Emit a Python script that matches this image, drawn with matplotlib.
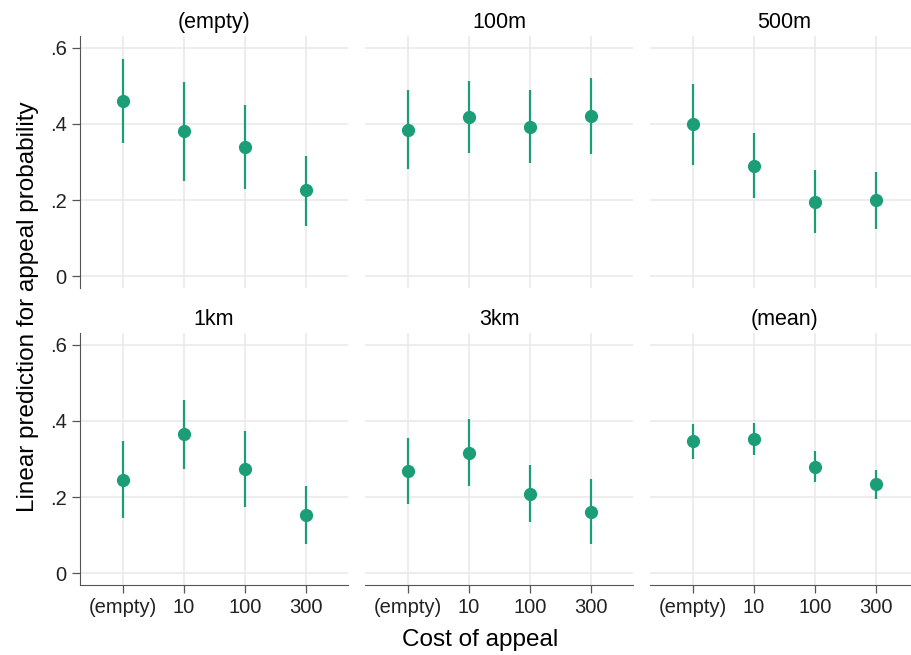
import matplotlib
matplotlib.use('Agg')
import matplotlib.pyplot as plt
import numpy as np

plt.rcParams['font.family'] = ['Liberation Sans', 'DejaVu Sans']

panels = ['(empty)', '100m', '500m', '1km', '3km', '(mean)']
costs = ['(empty)', '10', '100', '300']

estimate = [
  [0.460, 0.381, 0.340, 0.226],
  [0.385, 0.418, 0.392, 0.421],
  [0.399, 0.289, 0.196, 0.200],
  [0.245, 0.366, 0.273, 0.153],
  [0.268, 0.316, 0.208, 0.162],
  [0.347, 0.353, 0.280, 0.234],
]
ci_low = [
  [0.350, 0.251, 0.228, 0.133],
  [0.282, 0.323, 0.297, 0.321],
  [0.292, 0.205, 0.114, 0.125],
  [0.146, 0.275, 0.174, 0.076],
  [0.181, 0.228, 0.134, 0.076],
  [0.301, 0.311, 0.239, 0.195],
]
ci_high = [
  [0.570, 0.510, 0.451, 0.317],
  [0.489, 0.513, 0.489, 0.520],
  [0.505, 0.375, 0.280, 0.274],
  [0.346, 0.456, 0.374, 0.230],
  [0.356, 0.404, 0.285, 0.248],
  [0.393, 0.395, 0.320, 0.272],
]
y_ticks = [0, 0.2, 0.4, 0.6]
y_tick_labels = ['0', '.2', '.4', '.6']

color = '#1b9e77'
spine_color = '#555555'
W, H = 911, 655

fig = plt.figure(figsize=(W / 100, H / 100), dpi=100)

col_left = [80, 365, 650]
row_top = [36, 333]
ax_w, ax_h = 268, 252

for i, name in enumerate(panels):
  r, c = divmod(i, 3)
  left = col_left[c] / W
  bottom = (H - row_top[r] - ax_h) / H
  ax = fig.add_axes([left, bottom, ax_w / W, ax_h / H])

  x = np.arange(len(costs))
  est = np.array(estimate[i])
  lo = np.array(ci_low[i])
  hi = np.array(ci_high[i])
  ax.vlines(x, lo, hi, color=color, linewidth=1.6, zorder=3)
  ax.plot(x, est, 'o', color=color, markersize=8.5, zorder=4)

  ax.set_xlim(-0.7, 3.69)
  ax.set_ylim(-0.031, 0.631)
  ax.set_xticks(x)
  ax.set_yticks(y_ticks)
  ax.grid(True, color='#e8e8e8', linewidth=1.1, zorder=0)
  ax.set_axisbelow(True)
  ax.set_title(name, fontsize=15.5, pad=6)

  for s in ['top', 'right']:
    ax.spines[s].set_visible(False)
  ax.spines['left'].set_visible(c == 0)
  ax.spines['bottom'].set_visible(r == 1)
  ax.spines['left'].set_color(spine_color)
  ax.spines['bottom'].set_color(spine_color)

  ax.tick_params(axis='both', colors=spine_color, labelcolor='#222222',
                 labelsize=14.5, length=6, width=0.9)
  if c == 0:
    ax.set_yticklabels(y_tick_labels)
  else:
    ax.tick_params(axis='y', left=False, labelleft=False)
  if r == 1:
    ax.set_xticklabels(costs)
  else:
    ax.tick_params(axis='x', bottom=False, labelbottom=False)

fig.text(28 / W, 1 - 307 / H, 'Linear prediction for appeal probability',
         rotation=90, ha='center', va='center', fontsize=17.5)
fig.text(480 / W, 1 - 640 / H, 'Cost of appeal', ha='center', va='center',
         fontsize=17.5)

fig.savefig('out.png', dpi=100)
